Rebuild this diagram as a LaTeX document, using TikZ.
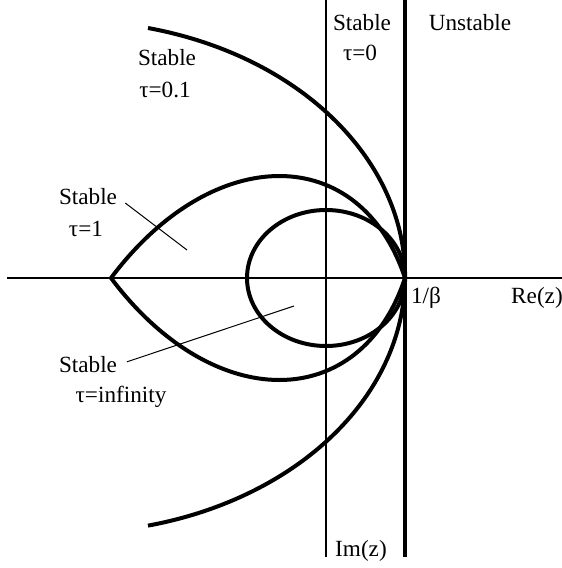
\documentclass[tikz,border=0pt]{standalone}
\usepackage{fontspec}
\setmainfont{Liberation Serif}

\begin{document}
\begin{tikzpicture}[x=0.5pt, y=-0.5pt]

  % Styles
  \tikzset{
    axis/.style={line width=0.6pt},
    locus/.style={line width=2pt},
    leader/.style={line width=0.5pt, shorten <=5pt},
    region label/.style={font=\fontsize{11.6pt}{14pt}\selectfont, inner sep=0pt}
  }

  \useasboundingbox (0,0) rectangle (562,568);

  % --- AXES ---
  \coordinate (rewest) at (7,278);
  \coordinate (reeast) at (562,278);
  \coordinate (imtop) at (326,0);
  \coordinate (imbot) at (326,557);
  \draw[axis] (rewest) -- (reeast);
  \draw[axis] (imtop) -- (imbot);

  % --- STABILITY LIMIT Re(z) = 1/beta ---
  \coordinate (limtop) at (405,0);
  \coordinate (limbot) at (405,557);
  \draw[locus] (limtop) -- (limbot);

  % --- BOUNDARY CURVES ---
  % tau = 0.1 : wide arc through 1/beta
  \draw[locus] (148,28) arc[start angle=-76.4, end angle=76.4, x radius=336, y radius=256];
  % tau = 1 : leaf with a cusp on the real axis
  \draw[locus] (405,278) .. controls (360,142) and (213,142) .. (111,278)
    .. controls (213,414) and (360,414) .. (405,278);
  % tau = infinity : closed loop
  \draw[locus] (326,278) ellipse[x radius=79, y radius=68];

  % --- REGION LABELS ---
  \node[region label] (st01) at (167,58) {Stable};
  \node[region label] (tau01) at (165,90) {τ=0.1};
  \node[region label] (st0) at (362,23) {Stable};
  \node[region label] (tau0) at (360,53) {τ=0};
  \node[region label] (unst) at (470,23) {Unstable};
  \node[region label] (st1) at (88,197) {Stable};
  \node[region label] (tau1) at (86,229) {τ=1};
  \node[region label] (stinf) at (88,365) {Stable};
  \node[region label] (tauinf) at (121,397) {τ=infinity};

  % --- AXIS LABELS ---
  \node[region label] (beta) at (426,298) {1/β};
  \node[region label] (re) at (537,298) {Re(z)};
  \node[region label] (im) at (361,551) {Im(z)};

  % --- LEADERS ---
  \coordinate (in1) at (187,250);
  \coordinate (ininf) at (294,306);
  \draw[leader] (st1.east) -- (in1);
  \draw[leader] (stinf.east) -- (ininf);

\end{tikzpicture}
\end{document}
